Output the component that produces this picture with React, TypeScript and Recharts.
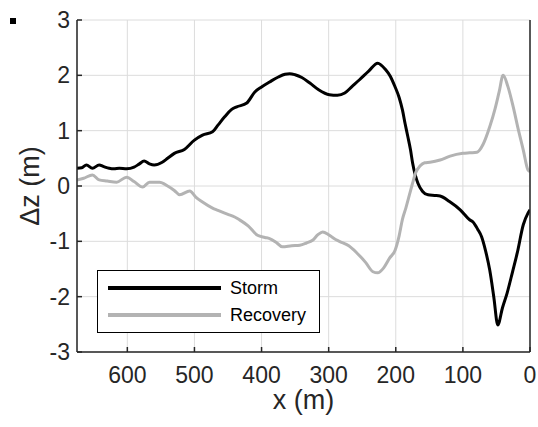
import React from "react";
import { LineChart, Line, XAxis, YAxis, CartesianGrid, Label } from "recharts";

// cross-shore distance (m) and elevation change (m)
const stormX = [675, 668, 661, 652, 642, 635, 627, 620, 612, 601, 590, 582, 575, 567, 560, 548, 540, 530, 515, 500, 488, 473, 465, 455, 445, 437, 422, 410, 400, 388, 375, 365, 358, 350, 340, 328, 315, 299, 287, 276, 265, 254, 240, 227, 215, 208, 201, 195, 190, 186, 182, 178, 175, 171, 167, 160, 152, 142, 134, 120, 104, 90, 85, 78, 72, 66, 60, 54, 48, 41, 34, 26, 19, 10, 3, 0];
const stormZ = [0.32, 0.33, 0.38, 0.32, 0.38, 0.35, 0.32, 0.31, 0.32, 0.31, 0.34, 0.4, 0.45, 0.4, 0.38, 0.43, 0.5, 0.59, 0.66, 0.83, 0.92, 0.98, 1.1, 1.25, 1.38, 1.43, 1.5, 1.7, 1.79, 1.88, 1.97, 2.02, 2.03, 2.01, 1.96, 1.86, 1.74, 1.65, 1.64, 1.68, 1.8, 1.92, 2.08, 2.22, 2.1, 1.98, 1.79, 1.6, 1.37, 1.12, 0.89, 0.65, 0.42, 0.2, 0.05, -0.1, -0.16, -0.17, -0.18, -0.28, -0.43, -0.61, -0.65, -0.78, -0.92, -1.18, -1.52, -2.0, -2.51, -2.2, -1.93, -1.55, -1.21, -0.7, -0.49, -0.43];

const recoveryX = [675, 665, 652, 642, 630, 616, 601, 590, 577, 567, 552, 540, 530, 522, 507, 498, 488, 473, 465, 451, 440, 433, 420, 406, 395, 388, 378, 369, 355, 343, 333, 324, 316, 309, 300, 292, 284, 270, 258, 245, 234, 227, 218, 209, 201, 195, 190, 185, 179, 175, 170, 164, 157, 149, 134, 119, 100, 90, 79, 70, 60, 52, 46, 40, 33, 25, 18, 10, 3, 0];
const recoveryZ = [0.11, 0.14, 0.2, 0.11, 0.09, 0.07, 0.16, 0.08, -0.02, 0.07, 0.07, 0.0, -0.08, -0.16, -0.09, -0.2, -0.29, -0.4, -0.44, -0.51, -0.56, -0.61, -0.72, -0.89, -0.93, -0.95, -1.02, -1.1, -1.08, -1.07, -1.03, -0.98, -0.88, -0.83, -0.88, -0.95, -1.0, -1.08, -1.21, -1.38, -1.55, -1.57, -1.48, -1.3, -1.16, -0.9, -0.6, -0.4, -0.13, 0.05, 0.25, 0.36, 0.42, 0.43, 0.47, 0.54, 0.59, 0.6, 0.61, 0.75, 1.07, 1.4, 1.7, 2.0, 1.8, 1.43, 1.05, 0.65, 0.29, 0.26];

const xTicks = [0, 100, 200, 300, 400, 500, 600];
const yTicks = [-3, -2, -1, 0, 1, 2, 3];
const seriesNames = ["Storm", "Recovery"];
const seriesColors = ["#000000", "#b3b3b3"];

const storm = stormX.map((x, i) => ({ x, z: stormZ[i] }));
const recovery = recoveryX.map((x, i) => ({ x, z: recoveryZ[i] }));

const font = "'Liberation Sans', Arial, sans-serif";
const box = "#262626";

// legend drawn as an overlay so the chart doesn't reserve space for it
const LegendBox = () => (
  <div
    style={{
      position: "absolute",
      left: 97,
      top: 270,
      boxSizing: "border-box",
      width: 223,
      height: 63,
      border: "1.5px solid #000",
      background: "#fff",
      fontFamily: font,
      fontSize: 18,
      color: "#000",
    }}
  >
    {seriesNames.map((name, i) => (
      <div key={name} style={{ position: "absolute", left: 10, top: 6 + i * 27, height: 22, display: "flex", alignItems: "center" }}>
        <div style={{ width: 113, height: 3.5, background: seriesColors[i] }} />
        <span style={{ marginLeft: 9 }}>{name}</span>
      </div>
    ))}
  </div>
);

const YTitle = (props: any) => {
  const vb = props.viewBox || { x: 0, y: 20, height: 332 };
  const cy = vb.y + vb.height / 2;
  return (
    <text x={30} y={cy} transform={`rotate(-90 30 ${cy})`} textAnchor="middle" dominantBaseline="central" fontSize={27} fontFamily={font} fill="#262626">
      Δz (m)
    </text>
  );
};

export default function App() {
  return (
    <div style={{ position: "absolute", left: 0, top: 0, width: 538, height: 427, background: "#fff", fontFamily: font }}>
      <div style={{ position: "absolute", left: 10, top: 18, width: 6, height: 6, background: "#000" }} />
      <LineChart width={538} height={427} margin={{ top: 20, right: 0, bottom: 0, left: 0 }}>
        <CartesianGrid stroke="#dcdcdc" strokeWidth={1} />
        <XAxis
          dataKey="x"
          type="number"
          domain={[0, 675]}
          reversed
          allowDataOverflow
          ticks={xTicks}
          height={75}
          tickSize={-5}
          tickMargin={20}
          stroke={box}
          strokeWidth={1.5}
          tick={{ fill: "#262626", fontSize: 23, fontFamily: font }}
        >
          <Label value="x (m)" position="insideBottom" offset={18} fontSize={27} fontFamily={font} fill="#262626" />
        </XAxis>
        <XAxis
          xAxisId="top"
          orientation="top"
          type="number"
          domain={[0, 675]}
          reversed
          allowDataOverflow
          ticks={xTicks}
          height={0}
          tickSize={-5}
          tick={false}
          stroke={box}
          strokeWidth={1.5}
        />
        <YAxis
          type="number"
          domain={[-3, 3]}
          ticks={yTicks}
          width={77}
          tickSize={-5}
          tickMargin={12}
          stroke={box}
          strokeWidth={1.5}
          tick={{ fill: "#262626", fontSize: 23, fontFamily: font }}
        >
          <Label content={<YTitle />} position="insideLeft" />
        </YAxis>
        <YAxis
          yAxisId="right"
          orientation="right"
          type="number"
          domain={[-3, 3]}
          ticks={yTicks}
          width={8}
          tickSize={-5}
          tick={false}
          stroke={box}
          strokeWidth={1.5}
        />
        <Line data={storm} dataKey="z" name={seriesNames[0]} type="monotone" stroke={seriesColors[0]} strokeWidth={3} dot={false} isAnimationActive={false} />
        <Line data={recovery} dataKey="z" name={seriesNames[1]} type="monotone" stroke={seriesColors[1]} strokeWidth={3} dot={false} isAnimationActive={false} />
      </LineChart>
      <LegendBox />
    </div>
  );
}
